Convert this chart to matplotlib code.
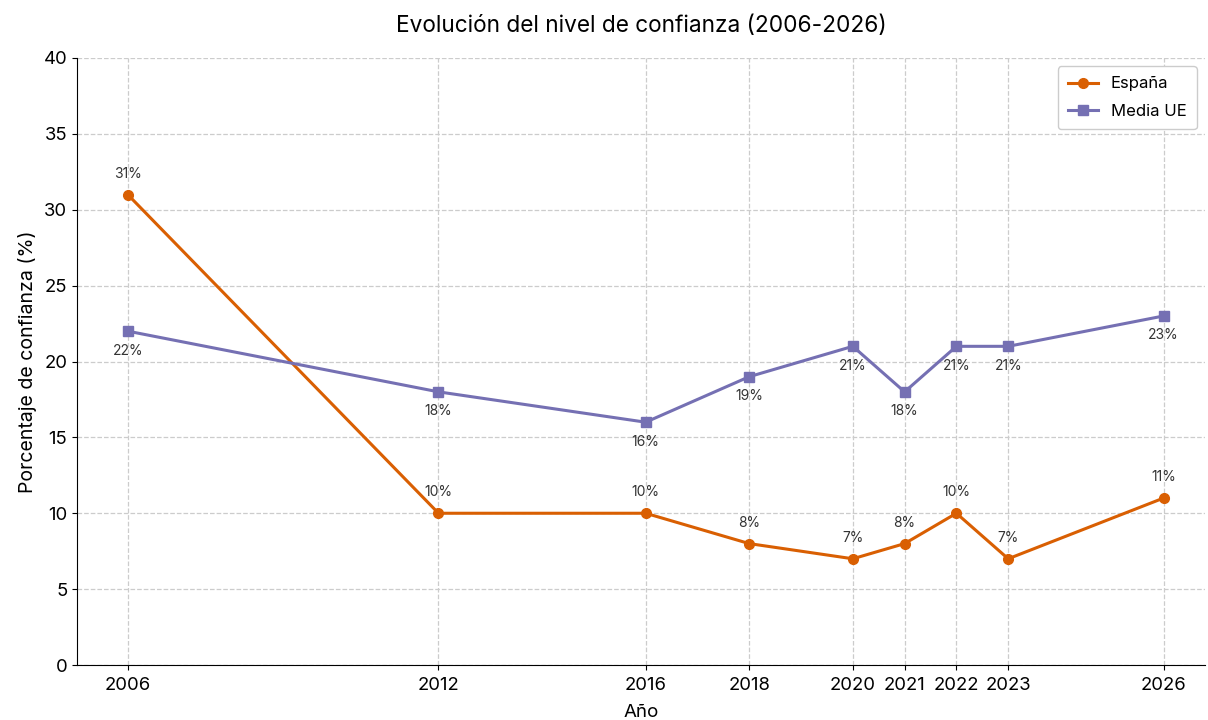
import matplotlib
matplotlib.use("Agg")
import matplotlib.pyplot as plt

years = [2006, 2012, 2016, 2018, 2020, 2021, 2022, 2023, 2026]
espana = [31, 10, 10, 8, 7, 8, 10, 7, 11]
media_ue = [22, 18, 16, 19, 21, 18, 21, 21, 23]
yticks = [0, 5, 10, 15, 20, 25, 30, 35, 40]

plt.rcParams['font.family'] = ['Inter', 'DejaVu Sans']

fig = plt.figure(figsize=(12.08, 7.2), dpi=100)
ax = fig.add_axes([77/1208, 55/720, (1205-77)/1208, (665-58)/720])

c_es = '#d95f02'
c_ue = '#7570b3'
ax.plot(years, espana, color=c_es, marker='o', lw=2.2, ms=7, label='España', zorder=3)
ax.plot(years, media_ue, color=c_ue, marker='s', lw=2.2, ms=7, label='Media UE', zorder=3)

for x, y in zip(years, espana):
    ax.annotate(f'{y}%', (x, y), xytext=(0, 10), textcoords='offset points',
                ha='center', va='bottom', fontsize=10, color='#333333')
for x, y in zip(years, media_ue):
    ax.annotate(f'{y}%', (x, y), xytext=(0, -9), textcoords='offset points',
                ha='center', va='top', fontsize=10, color='#333333')

ax.set_xlim(2005.02, 2026.8)
ax.set_ylim(0, 40)
ax.set_xticks(years)
ax.set_xticklabels([str(y) for y in years])
ax.set_yticks(yticks)
ax.tick_params(labelsize=13.3)
ax.tick_params(axis='x', pad=5)
ax.grid(True, linestyle='--', color='#cccccc', lw=0.9)
ax.set_axisbelow(True)
ax.spines['top'].set_visible(False)
ax.spines['right'].set_visible(False)
ax.set_xlabel('Año', fontsize=13.5, labelpad=7)
ax.set_ylabel('Porcentaje de confianza (%)', fontsize=14, labelpad=5)
ax.set_title('Evolución del nivel de confianza (2006-2026)', fontsize=16.3, pad=19)
ax.legend(loc='upper right', fontsize=12, framealpha=1, edgecolor='#cccccc',
          labelspacing=0.75, borderpad=0.6, handlelength=1.8)

fig.savefig('out.png', dpi=100)
